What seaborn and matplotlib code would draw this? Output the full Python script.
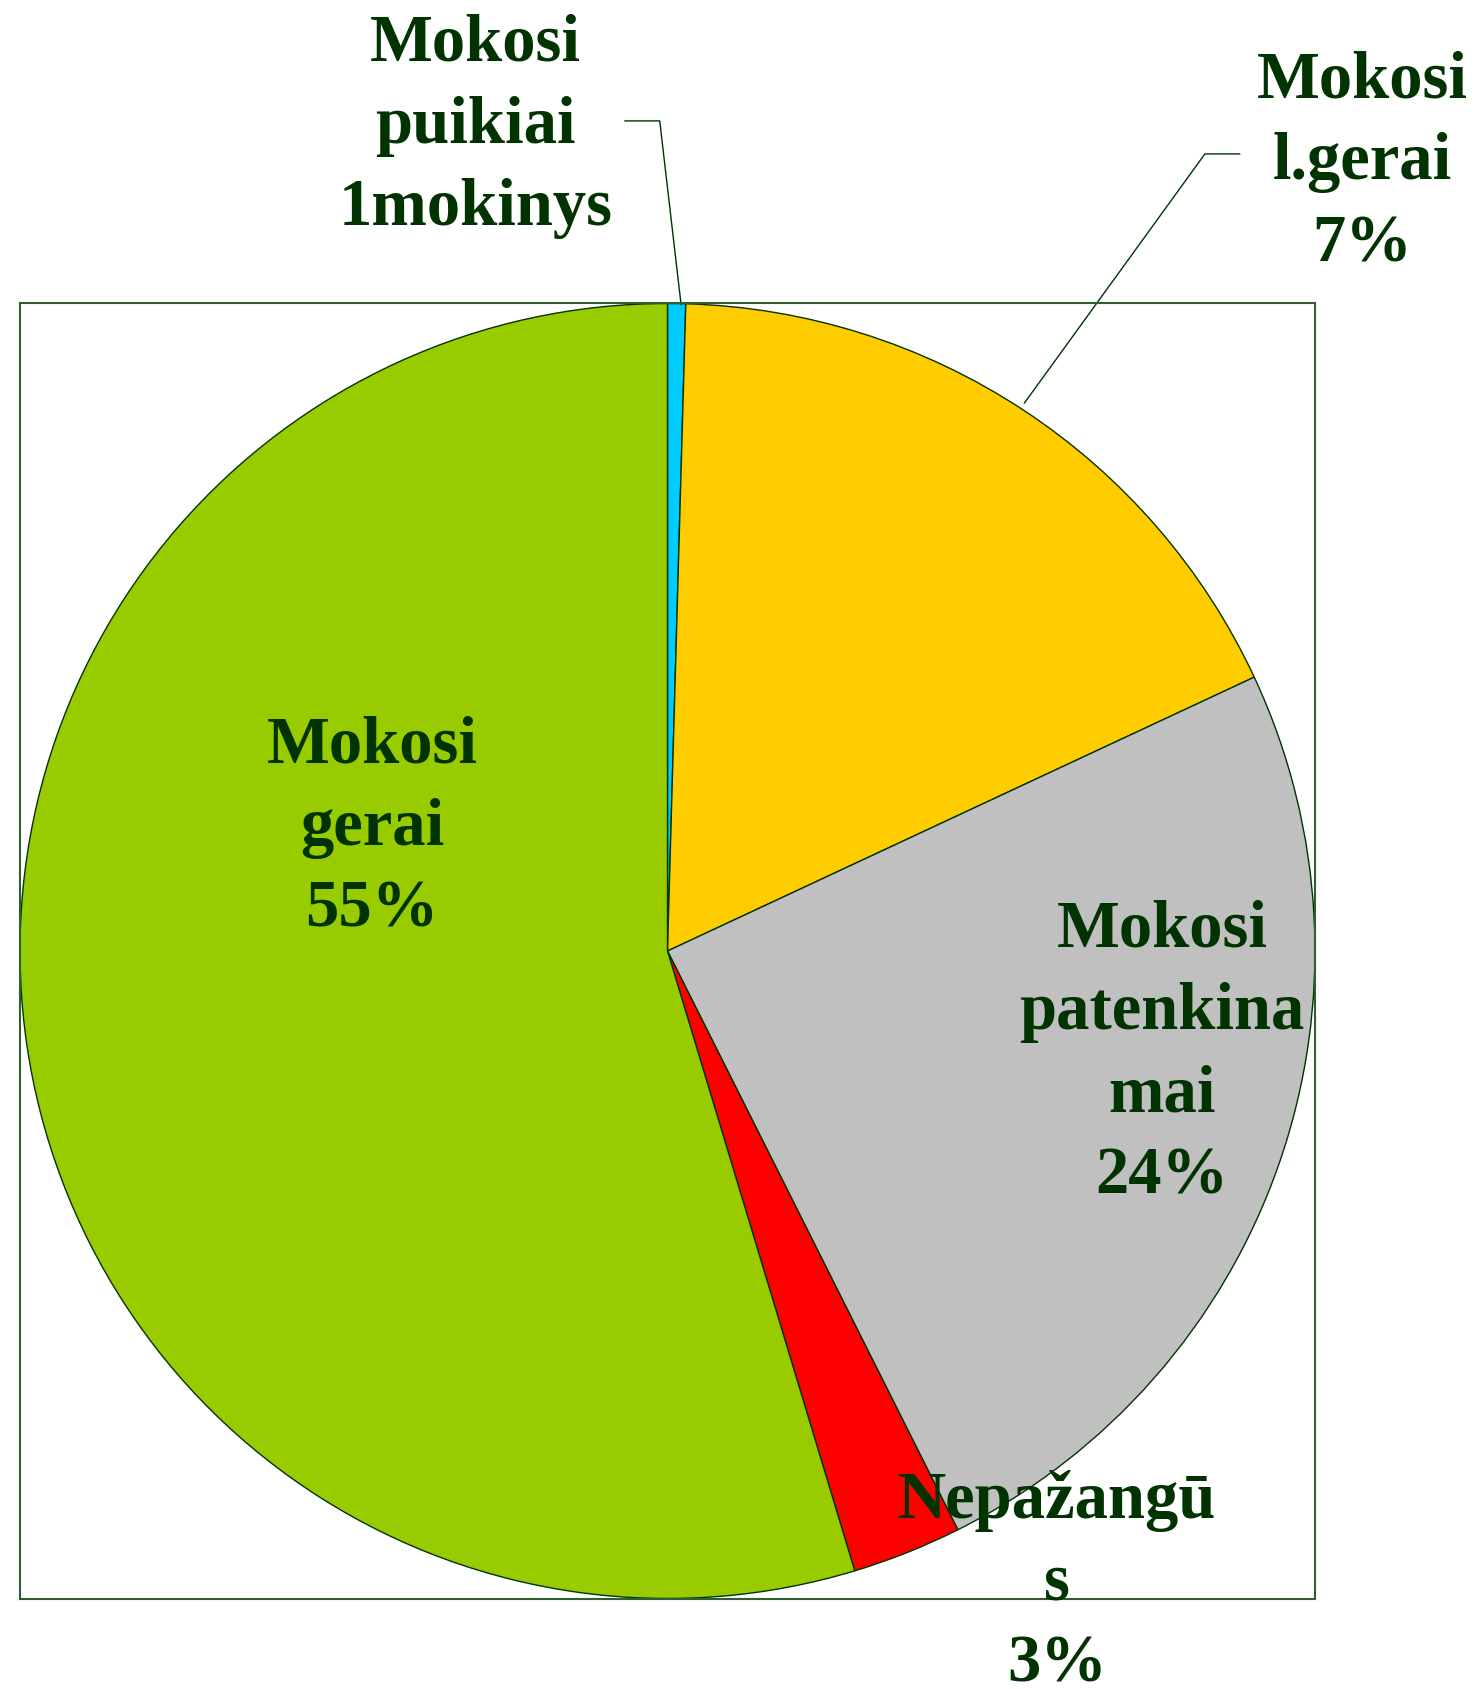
import matplotlib.pyplot as plt
import seaborn as sns

# slice data, clockwise from the top
categories = ['Mokosi puikiai', 'Mokosi l.gerai', 'Mokosi patenkinamai', 'Nepažangūs', 'Mokosi gerai']
shares = [0.45, 17.6, 24.55, 2.73, 54.67]
label_texts = ['Mokosi\npuikiai\n1mokinys', 'Mokosi\nl.gerai\n7%', 'Mokosi\npatenkina\nmai\n24%',
               'Nepažangū\ns\n3%', 'Mokosi\ngerai\n55%']
colors = ['#00CCFF', '#FFCC00', '#C0C0C0', '#FF0000', '#99CC00']

sns.set_style("white")
plt.rcParams['font.family'] = ['Liberation Serif', 'DejaVu Serif']

W, H = 1478, 1690
fig = plt.figure(figsize=(W / 100, H / 100), dpi=100)
ax = fig.add_axes([20 / W, 90 / H, 1295 / W, 1296 / H])

ax.pie(shares, colors=colors, startangle=90, counterclock=False, radius=1.0,
       wedgeprops=dict(edgecolor='#003300', linewidth=1.0))
ax.set_xlim(-1, 1)
ax.set_ylim(-1, 1)
ax.set_aspect('equal')
ax.set_frame_on(True)
ax.set_xticks([])
ax.set_yticks([])
for s in ax.spines.values():
    s.set_visible(True)
    s.set_color('#2F5F2F')
    s.set_linewidth(1.5)

txt_color = '#003300'
label_pos = [(-0.296, 1.275), (1.073, 1.219), (0.764, -0.157), (0.602, -0.974), (-0.456, 0.191)]
for (x, y), t in zip(label_pos, label_texts):
    ax.text(x, y, t, ha='center', va='center', fontsize=48, fontweight='bold',
            color=txt_color, linespacing=1.45, clip_on=False, zorder=5)

# leader lines
ax.plot([-0.066, -0.012, 0.021], [1.282, 1.282, 0.998], color=txt_color, lw=1.0, clip_on=False)
ax.plot([0.884, 0.830, 0.551], [1.231, 1.231, 0.846], color=txt_color, lw=1.0, clip_on=False)

fig.savefig('out.png', dpi=100)
